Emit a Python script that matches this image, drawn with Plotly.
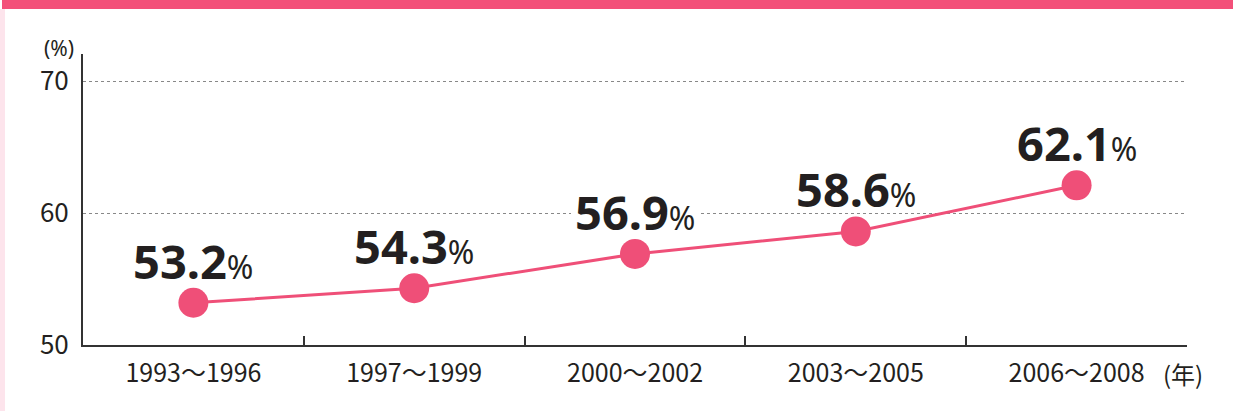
import plotly.graph_objects as go

categories = ["1993〜1996", "1997〜1999", "2000〜2002", "2003〜2005", "2006〜2008"]
values = [53.2, 54.3, 56.9, 58.6, 62.1]
y_ticks = [50, 60, 70]
y_unit = "(%)"
x_unit = "(年)"

W, H = 1233, 411
L, R, T, B = 83, 1187, 54, 345  # plot area in px
PINK = "#EF4F78"
DARK = "#231F20"
FONT = "Noto Sans CJK JP"
LABEL_SHIFT = 42

def px(x):
    return (x - L) / (R - L)

def py(y):
    return (B - y) / (B - T)

fig = go.Figure()
fig.add_trace(go.Scatter(
    x=categories, y=values, mode="lines+markers",
    line=dict(color=PINK, width=3),
    marker=dict(color=PINK, size=30, line=dict(width=0)),
    hoverinfo="skip", cliponaxis=False,
))

annotations = []
shapes = []
for i, (c, v) in enumerate(zip(categories, values)):
    annotations.append(dict(
        x=c, y=v, xref="x", yref="y",
        text=f"<b>{v:.1f}</b><span style='font-size:32px'>%</span>",
        showarrow=False, yshift=LABEL_SHIFT, xanchor="center", yanchor="middle",
        font=dict(family="Noto Sans", size=47, color=DARK),
    ))
    # white backdrop behind label, drawn between gridlines and traces
    shapes.append(dict(
        type="rect", xref="x", yref="y", layer="between",
        xsizemode="pixel", ysizemode="pixel", xanchor=i, yanchor=v,
        x0=-64, x1=64, y0=LABEL_SHIFT - 20, y1=LABEL_SHIFT + 20,
        fillcolor="white", line=dict(width=0),
    ))
annotations.append(dict(
    x=px(59), y=py(48), xref="paper", yref="paper", text=y_unit,
    showarrow=False, xanchor="center", yanchor="middle",
    font=dict(family="Noto Sans", size=21, color=DARK),
))
annotations.append(dict(
    x=px(1161), y=py(373), xref="paper", yref="paper", text=x_unit,
    showarrow=False, xanchor="left", yanchor="middle",
    font=dict(family=FONT, size=24, color=DARK),
))

shapes += [
    dict(type="rect", xref="paper", yref="paper",
         x0=px(2), x1=px(W), y0=py(0), y1=py(9),
         fillcolor="#F35079", line=dict(width=0), layer="above"),
    dict(type="rect", xref="paper", yref="paper",
         x0=px(0), x1=px(5), y0=py(9), y1=py(H),
         fillcolor="#FDE4EC", line=dict(width=0), layer="above"),
]

fig.update_layout(
    width=W, height=H,
    margin=dict(l=L, r=W - R, t=T, b=H - B, autoexpand=False),
    paper_bgcolor="white", plot_bgcolor="white",
    showlegend=False,
    template="none",
    annotations=annotations,
    shapes=shapes,
    xaxis=dict(
        type="category", tickson="boundaries", ticks="inside",
        ticklen=9, tickwidth=2, tickcolor="#333333",
        showline=True, linecolor="#333333", linewidth=2,
        showgrid=False, zeroline=False, automargin=False,
        tickfont=dict(family=FONT, size=25, color=DARK),
        ticklabelstandoff=5,
        range=[-0.5, 4.5], fixedrange=True,
    ),
    yaxis=dict(
        range=[50, 50 + (B - T) / 13.2],
        tickvals=y_ticks, ticktext=[str(t) for t in y_ticks],
        ticks="", showline=True, linecolor="#333333", linewidth=2,
        showgrid=True, gridcolor="#888888", gridwidth=1, griddash="dot",
        zeroline=False, automargin=False,
        tickfont=dict(family=FONT, size=26, color=DARK),
        ticklabelstandoff=7, fixedrange=True,
    ),
)

fig.write_html(
    "out.html",
    config={"displayModeBar": False},
    post_script="document.body.style.margin='0';document.body.style.overflow='hidden';",
)
